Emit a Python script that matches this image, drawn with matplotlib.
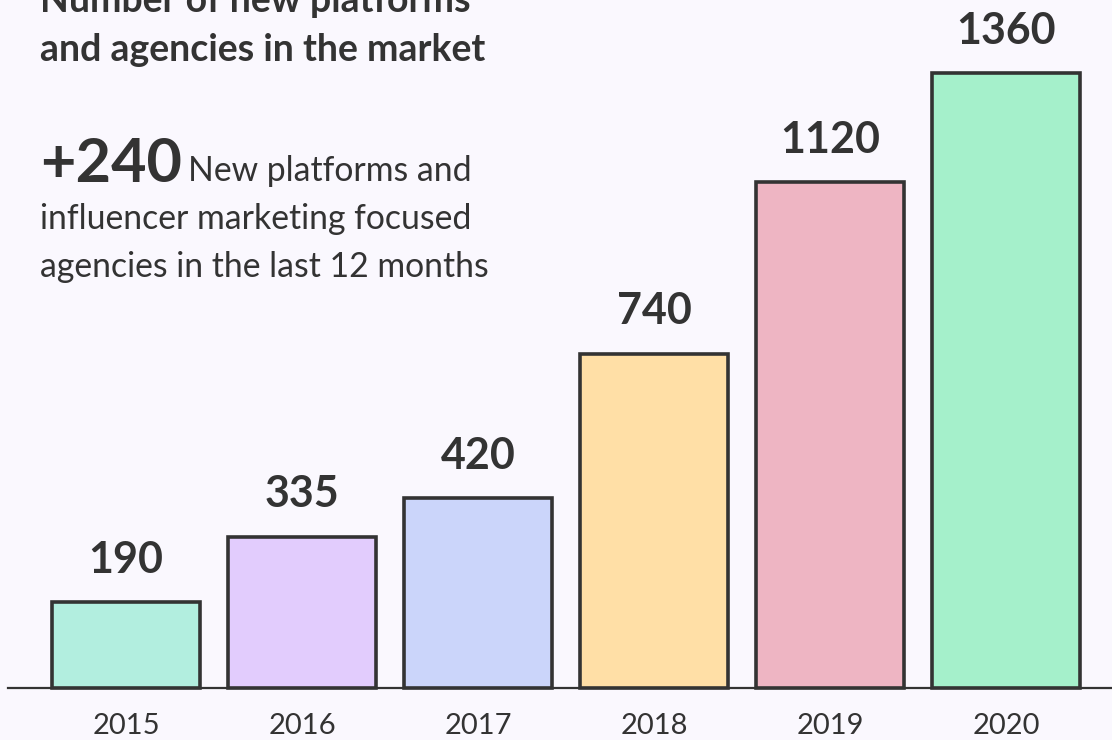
import numpy as np
import matplotlib.pyplot as plt

years = ["2015", "2016", "2017", "2018", "2019", "2020"]
counts = [190, 335, 420, 740, 1120, 1360]
bar_colors = ["#B2EEDF", "#E2CCFD", "#CBD5FA", "#FFDFA6", "#EEB5C3", "#A5F0CB"]

title_lines = ["Number of new platforms", "and agencies in the market"]
highlight = "+240"
note_lines = ["New platforms and", "influencer marketing focused",
              "agencies in the last 12 months"]

BG = "#FAF8FE"
INK = "#333333"
W, H = 1112, 740

plt.rcParams["font.family"] = ["Lato", "DejaVu Sans"]

fig = plt.figure(figsize=(W / 100, H / 100), dpi=100, facecolor=BG)
ax = fig.add_axes([0, 52 / H, 1, 1 - 52 / H])
ax.set_facecolor(BG)

# pixel layout: bar centres 176 px apart, first at x=126
x = np.arange(len(years))
ax.set_xlim(-126 / 176, (W - 126) / 176)
ax.set_ylim(0, (H - 52) / 0.452)

ax.bar(x, counts, width=148 / 176, color=bar_colors, edgecolor=INK,
       linewidth=2.6, clip_on=False, zorder=3)
ax.axhline(0, xmin=8 / W, xmax=1, color=INK, lw=1.6, clip_on=False, zorder=2)

for xi, v in zip(x, counts):
    ax.annotate(str(v), (xi, v), xytext=(0, 16), textcoords="offset points",
                ha="center", va="bottom", fontsize=31, fontweight="bold", color=INK)

ax.set_xticks(x)
ax.set_xticklabels(years, fontsize=21, color=INK)
ax.tick_params(axis="x", length=0, pad=18)
ax.set_yticks([])
for s in ax.spines.values():
    s.set_visible(False)


def px_text(px, py, s, **kw):
    fig.text(px / W, 1 - py / H, s, color=INK, ha="left", va="baseline", **kw)


px_text(40, 12, title_lines[0], fontsize=27, fontweight="bold")
px_text(40, 61, title_lines[1], fontsize=27, fontweight="bold")
px_text(40, 182, highlight, fontsize=44, fontweight="bold")
px_text(188, 181, note_lines[0], fontsize=24.3)
px_text(40, 229, note_lines[1], fontsize=24.3)
px_text(40, 277, note_lines[2], fontsize=24.3)

fig.savefig("out.png", dpi=100, facecolor=BG)
